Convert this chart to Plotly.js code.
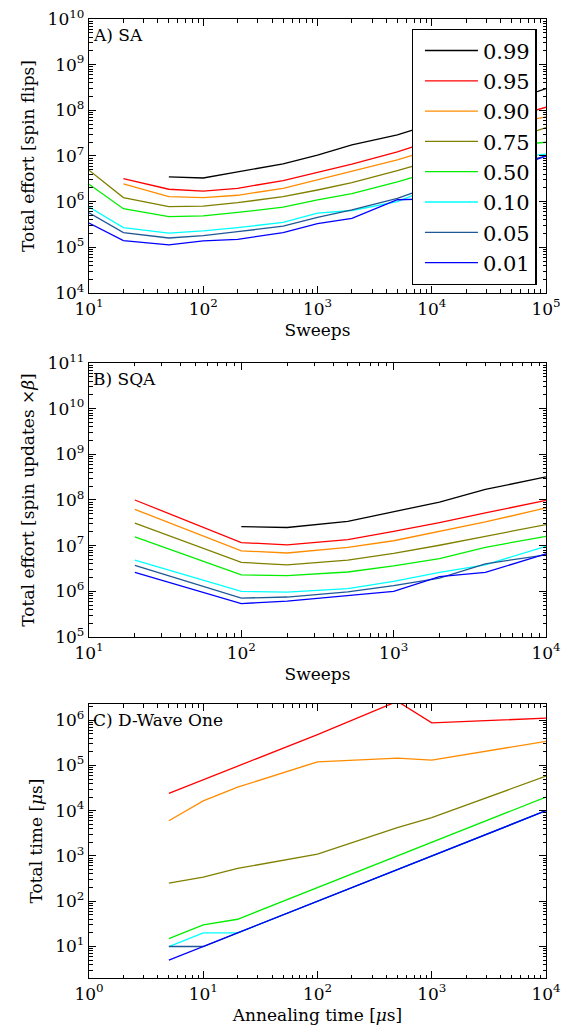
<!DOCTYPE html>
<html>
<head>
<meta charset="utf-8">
<script src="https://cdn.plot.ly/plotly-3.0.1.min.js"></script>
<style>html,body{margin:0;padding:0;background:#fff;}#chart{width:564px;height:1030px;}</style>
</head>
<body>
<div id="chart"></div>
<script>
// ---------- data ----------
const seriesNames = ['0.99','0.95','0.90','0.75','0.50','0.10','0.05','0.01'];
const seriesColors = ['#000000','#ff0000','#ff8c00','#808000','#00ee00','#00ffff','#1f5896','#0000ff'];

// Panel A: simulated annealing
const saSweeps = [10,20,50,100,200,500,1000,2000,5000,10000,20000,50000,100000];
const sa99 = [null,null,3.5e6,3.3e6,4.5e6,6.7e6,1.05e7,1.75e7,2.9e7,5.0e7,8.0e7,1.65e8,3.0e8];
const sa95 = [null,3.2e6,1.87e6,1.7e6,1.96e6,2.9e6,4.4e6,6.6e6,1.23e7,2.2e7,3.8e7,7.1e7,1.17e8];
const sa90 = [null,2.45e6,1.29e6,1.23e6,1.38e6,1.96e6,3.0e6,4.5e6,8.2e6,1.4e7,2.4e7,5.1e7,7.2e7];
const sa75 = [4.9e6,1.23e6,7.8e5,8.0e5,9.5e5,1.29e6,1.8e6,2.6e6,4.8e6,8.0e6,1.3e7,2.3e7,4.2e7];
const sa50 = [2.4e6,7.0e5,4.7e5,4.9e5,5.8e5,7.6e5,1.1e6,1.5e6,2.7e6,4.5e6,8.0e6,1.7e7,2.0e7];
const sa10 = [7.6e5,2.7e5,2.05e5,2.3e5,2.7e5,3.5e5,5.6e5,6.4e5,1.0e6,2.0e6,4.0e6,9.2e6,1.1e7];
const sa05 = [5.7e5,2.1e5,1.6e5,1.8e5,2.2e5,2.9e5,4.5e5,6.6e5,1.18e6,2.2e6,3.6e6,6.3e6,1.0e7];
const sa01 = [3.4e5,1.4e5,1.13e5,1.38e5,1.5e5,2.1e5,3.3e5,4.3e5,1.1e6,1.15e6,2.4e6,5.5e6,1.0e7];

// Panel B: simulated quantum annealing
const sqaSweeps = [20,100,200,500,1000,2000,4000,10000];
const sqa99 = [null,2.6e7,2.5e7,3.4e7,5.6e7,9.0e7,1.7e8,3.2e8];
const sqa95 = [1.0e8,1.17e7,1.04e7,1.35e7,2.05e7,3.2e7,5.2e7,9.8e7];
const sqa90 = [6.2e7,7.7e6,6.9e6,9.2e6,1.28e7,2.05e7,3.3e7,6.7e7];
const sqa75 = [3.1e7,4.3e6,3.8e6,4.8e6,6.8e6,1.02e7,1.6e7,2.9e7];
const sqa50 = [1.55e7,2.3e6,2.2e6,2.65e6,3.6e6,5.2e6,9.2e6,1.6e7];
const sqa10 = [4.8e6,1.0e6,9.6e5,1.14e6,1.65e6,2.6e6,3.8e6,9.7e6];
const sqa05 = [3.7e6,7.1e5,7.5e5,9.7e5,1.33e6,1.95e6,4.0e6,6.3e6];
const sqa01 = [2.6e6,5.4e5,6.1e5,8.1e5,1.0e6,2.1e6,2.6e6,6.6e6];

// Panel C: D-Wave One
const dwTime = [5,10,20,100,500,1000,10000];
const dw99 = [null,null,null,null,null,null,null];
const dw95 = [2.4e4,4.8e4,9.6e4,4.8e5,2.6e6,8.7e5,1.1e6];
const dw90 = [6.0e3,1.65e4,3.3e4,1.2e5,1.45e5,1.3e5,3.4e5];
const dw75 = [2.5e2,3.4e2,5.3e2,1.1e3,4.2e3,7.0e3,5.8e4];
const dw50 = [15,30,40,200,1000,2000,20000];
const dw10 = [10,20,20,100,500,1000,10000];
const dw05 = [10,10,20,100,500,1000,10000];
const dw01 = [5,10,20,100,500,1000,10000];

// tick exponents
const xExpA = [1,2,3,4,5], yExpA = [4,5,6,7,8,9,10];
const xExpB = [1,2,3,4],   yExpB = [5,6,7,8,9,10,11];
const xExpC = [0,1,2,3,4], yExpC = [1,2,3,4,5,6];

// ---------- build ----------
const SERIF = "'DejaVu Serif', 'Liberation Serif', serif";
const saY = [sa99,sa95,sa90,sa75,sa50,sa10,sa05,sa01];
const sqaY = [sqa99,sqa95,sqa90,sqa75,sqa50,sqa10,sqa05,sqa01];
const dwY = [dw99,dw95,dw90,dw75,dw50,dw10,dw05,dw01];

const traces = [];
function addPanel(xs, ys, xa, ya, legend){
  ys.forEach((y,i)=>{
    traces.push({x:xs, y:y, xaxis:xa, yaxis:ya, type:'scatter', mode:'lines',
      name:seriesNames[i], showlegend:legend, legendgroup:'g'+i,
      line:{color:seriesColors[i], width:1.3}, connectgaps:false, hoverinfo:'skip'});
  });
}
addPanel(saSweeps, saY, 'x', 'y', true);
addPanel(sqaSweeps, sqaY, 'x2', 'y2', false);
addPanel(dwTime, dwY, 'x3', 'y3', false);

function minorVals(e0, e1){
  const v=[];
  for(let e=e0;e<e1;e++) for(let m=2;m<=9;m++) v.push(m*Math.pow(10,e));
  return v;
}
function axis(exps, rng, extra){
  const a = {type:'log', range:rng, showline:true, linecolor:'black', linewidth:1.2,
    mirror:'ticks', ticks:'inside', ticklen:7, tickwidth:1, tickcolor:'black',
    showgrid:false, zeroline:false,
    tickmode:'array', tickvals:exps.map(e=>Math.pow(10,e)),
    ticktext:exps.map(e=>'10<sup>'+e+'</sup>'),
    tickfont:{family:SERIF, size:17, color:'black'},
    minor:{tickmode:'array', tickvals:minorVals(Math.floor(rng[0]), Math.ceil(rng[1])),
      ticks:'inside', ticklen:3.5, tickwidth:1, tickcolor:'black', showgrid:false}};
  return Object.assign(a, extra);
}
const titleFont = {family:SERIF, size:17, color:'black'};

const layout = {
  width:564, height:1030,
  margin:{l:89, r:18, t:19, b:52},
  paper_bgcolor:'white', plot_bgcolor:'white',
  font:{family:SERIF, color:'black'},
  showlegend:true,
  legend:{x:0.706, y:0.9895, xanchor:'left', yanchor:'top', bgcolor:'white',
    bordercolor:'black', borderwidth:1.3, font:{family:SERIF, size:21, color:'black'},
    traceorder:'grouped', tracegroupgap:0, itemwidth:53, indentation:7},
  xaxis: axis(xExpA,[1,5],{anchor:'y', domain:[0,1], title:{text:'Sweeps', font:titleFont, standoff:6}}),
  yaxis: axis(yExpA,[4,10],{anchor:'x', domain:[0.7143,1], title:{text:'Total effort [spin flips]', font:titleFont, standoff:8}}),
  xaxis2: axis(xExpB,[1,4],{anchor:'y2', domain:[0,1], title:{text:'Sweeps', font:titleFont, standoff:6}}),
  yaxis2: axis(yExpB,[5,11],{anchor:'x2', domain:[0.3556,0.6413], title:{text:'Total effort [spin updates ×<i>β</i>]', font:titleFont, standoff:8}}),
  xaxis3: axis(xExpC,[0,4],{anchor:'y3', domain:[0,1], title:{text:'Annealing time [<i>μ</i>s]', font:titleFont, standoff:6}}),
  yaxis3: axis(yExpC,[0.305,6.355],{anchor:'x3', domain:[0,0.2857], title:{text:'Total time [<i>μ</i>s]', font:titleFont, standoff:8}}),
  annotations:[
    {text:'A) SA', xref:'x domain', yref:'y domain', x:0.005, y:0.985, xanchor:'left', yanchor:'top', showarrow:false, font:{family:SERIF, size:17, color:'black'}},
    {text:'B) SQA', xref:'x2 domain', yref:'y2 domain', x:0.005, y:0.985, xanchor:'left', yanchor:'top', showarrow:false, font:{family:SERIF, size:17, color:'black'}},
    {text:'C) D-Wave One', xref:'x3 domain', yref:'y3 domain', x:0.005, y:0.985, xanchor:'left', yanchor:'top', showarrow:false, font:{family:SERIF, size:17, color:'black'}}
  ]
};

Plotly.newPlot('chart', traces, layout, {displayModeBar:false, staticPlot:true});
</script>
</body>
</html>
